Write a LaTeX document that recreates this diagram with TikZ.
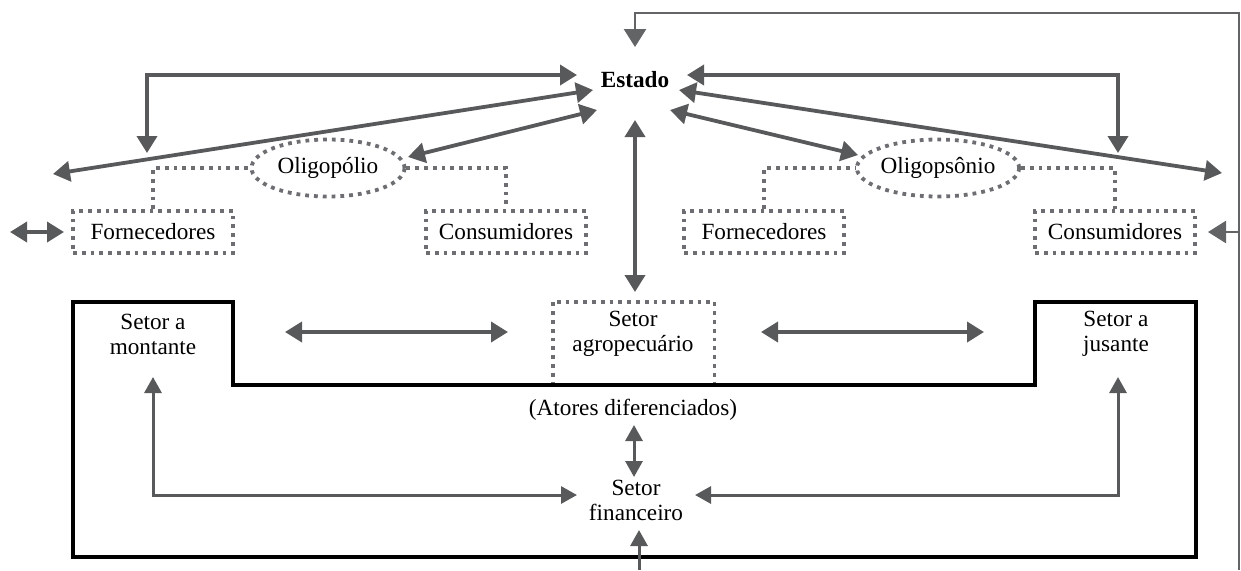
\documentclass[tikz,border=0pt]{standalone}
\usepackage{fontspec}
\setmainfont{Liberation Serif}
\usetikzlibrary{arrows.meta,shapes.geometric}
\definecolor{agray}{HTML}{58595B}
\definecolor{dgray}{HTML}{6D6E71}
\definecolor{fgray}{HTML}{636466}
\begin{document}
\begin{tikzpicture}[x=0.5pt,y=-0.5pt,
  every node/.style={font=\fontsize{11.6}{12.5}\selectfont, align=center, inner sep=0pt},
  arr/.style={draw=agray, line width=1.9pt, {Triangle[length=8.5pt,width=10pt]}-{Triangle[length=8.5pt,width=10pt]}},
  thinarr/.style={draw=agray, line width=1.5pt, {Triangle[length=8pt,width=8.5pt]}-{Triangle[length=8pt,width=8.5pt]}},
  thinone/.style={draw=agray, line width=1.5pt, -{Triangle[length=8pt,width=8.5pt]}},
  feed/.style={draw=fgray, line width=1.3pt},
  feedarr/.style={feed, -{Triangle[length=9pt,width=11pt]}},
  dotline/.style={draw=dgray, line width=1.9pt, dash pattern=on 1.9pt off 2.5pt},
  dotbox/.style={dotline, minimum width=80pt, minimum height=21pt},
  dotell/.style={dotline, ellipse, minimum width=76.5pt, minimum height=28.5pt},
  outline/.style={draw=black, line width=1.6pt}
]
\useasboundingbox (0,0) rectangle (1241,570);

% nodes
\node[font=\fontsize{11.6}{12.5}\selectfont\bfseries] (estado) at (635,80) {Estado};
\node[dotell] (oligL) at (328,168) {Oligopólio};
\node[dotell] (oligR) at (938,168) {Oligopsônio};
\node[dotbox] (fornL) at (153,232) {Fornecedores};
\node[dotbox] (consL) at (506,232) {Consumidores};
\node[dotbox] (fornR) at (764,232) {Fornecedores};
\node[dotbox] (consR) at (1115,232) {Consumidores};
\node[minimum width=80.5pt, minimum height=41.5pt] (agro) at (633.5,343.5) {};
\node at (633,334) {Setor\\agropecuário};
\node (mont) at (153,334) {Setor a\\montante};
\node (jus) at (1116,334) {Setor a\\jusante};
\node (atores) at (633,410) {(Atores diferenciados)};
\node (fin) at (636,500) {Setor\\financeiro};

% dotted connectors
\draw[dotline] (fornL.north) |- (oligL.west);
\draw[dotline] (oligL.east) -| (consL.north);
\draw[dotline] (fornR.north) |- (oligR.west);
\draw[dotline] (oligR.east) -| (consR.north);
\draw[dotline] (agro.south west) -- (agro.north west) -- (agro.north east) -- (agro.south east);

% black outline
\draw[outline] (73,302) -- (233,302) -- (233,385) -- (1035,385) -- (1035,302) -- (1196,302) -- (1196,557) -- (73,557) -- cycle;

% coordinates for arrow ends
\coordinate (eL1) at (577,75);
\coordinate (eL2) at (593,90);
\coordinate (eL3) at (597,110);
\coordinate (eR1) at (687,75);
\coordinate (eR2) at (679,90);
\coordinate (eR3) at (670,110);
\coordinate (eB) at (635,120);
\coordinate (eT) at (635,47);
\coordinate (lTip) at (147,153);
\coordinate (lCorner) at (147,75);
\coordinate (rTip) at (1118,153);
\coordinate (rCorner) at (1118,75);
\coordinate (farL) at (53,174);
\coordinate (farR) at (1222,173);
\coordinate (oLtip) at (408,157);
\coordinate (oRtip) at (858,155);
\coordinate (agTop) at (635,292);
\coordinate (dblA) at (10,232);
\coordinate (dblB) at (64,232);
\coordinate (hLa) at (285,332);
\coordinate (hLb) at (508,332);
\coordinate (hRa) at (761,332);
\coordinate (hRb) at (984,332);
\coordinate (vA) at (634,425);
\coordinate (vB) at (634,477);
\coordinate (mTip) at (153,377);
\coordinate (mCorner) at (153,495);
\coordinate (fL) at (577,495);
\coordinate (fR) at (695,495);
\coordinate (jCorner) at (1118,495);
\coordinate (jTip) at (1118,377);
\coordinate (botIn) at (639,570);
\coordinate (botTip) at (639,530);
\coordinate (fbBot) at (1239,570);
\coordinate (fbTop) at (1239,13);
\coordinate (fbTurn) at (635,13);
\coordinate (fbBranch) at (1239,232);
\coordinate (consRtip) at (1208,232);

% arrows to/from Estado
\draw[arr] (lTip) -- (lCorner) -- (eL1);
\draw[arr] (eR1) -- (rCorner) -- (rTip);
\draw[arr] (farL) -- (eL2);
\draw[arr] (oLtip) -- (eL3);
\draw[arr] (eR2) -- (farR);
\draw[arr] (eR3) -- (oRtip);
\draw[arr] (eB) -- (agTop);

% feedback line
\draw[feedarr] (fbBot) -- (fbTop) -- (fbTurn) -- (eT);
\draw[feedarr] (fbBranch) -- (consRtip);

% other arrows
\draw[arr] (dblA) -- (dblB);
\draw[arr] (hLa) -- (hLb);
\draw[arr] (hRa) -- (hRb);
\draw[thinarr] (vA) -- (vB);
\draw[thinarr] (mTip) -- (mCorner) -- (fL);
\draw[thinarr] (fR) -- (jCorner) -- (jTip);
\draw[thinone] (botIn) -- (botTip);
\end{tikzpicture}
\end{document}
